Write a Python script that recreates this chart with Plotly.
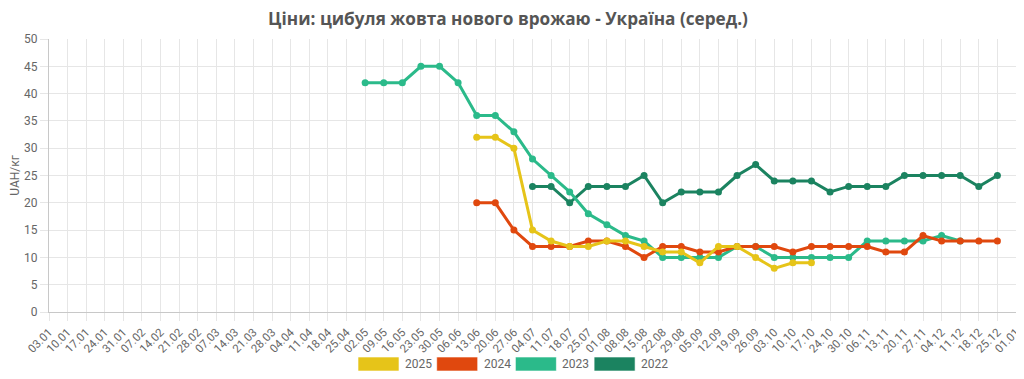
import plotly.graph_objects as go

categories = ["03.01","10.01","17.01","24.01","31.01","07.02","14.02","21.02","28.02","07.03",
              "14.03","21.03","28.03","04.04","11.04","18.04","25.04","02.05","09.05","16.05",
              "23.05","30.05","06.06","13.06","20.06","27.06","04.07","11.07","18.07","25.07",
              "01.08","08.08","15.08","22.08","29.08","05.09","12.09","19.09","26.09","03.10",
              "10.10","17.10","24.10","30.10","06.11","13.11","20.11","27.11","04.12","11.12",
              "18.12","25.12","01.01"]

# series: start category + values
start_2025 = "13.06"
values_2025 = [32, 32, 30, 15, 13, 12, 12, 13, 13, 12, 11, 11, 9, 12, 12, 10, 8, 9, 9]
start_2024 = "13.06"
values_2024 = [20, 20, 15, 12, 12, 12, 13, 13, 12, 10, 12, 12, 11, 11, 12, 12, 12, 11, 12,
               12, 12, 12, 11, 11, 14, 13, 13, 13, 13]
start_2023 = "02.05"
values_2023 = [42, 42, 42, 45, 45, 42, 36, 36, 33, 28, 25, 22, 18, 16, 14, 13, 10, 10, 10, 10,
               12, 12, 10, 10, 10, 10, 10, 13, 13, 13, 13, 14, 13]
start_2022 = "04.07"
values_2022 = [23, 23, 20, 23, 23, 23, 25, 20, 22, 22, 22, 25, 27, 24, 24, 24, 22, 23, 23, 23,
               25, 25, 25, 25, 23, 25]

series_names = ["2025", "2024", "2023", "2022"]
series_colors = ["#E6C419", "#E0480E", "#2BBA8A", "#1B8360"]
series_starts = [start_2025, start_2024, start_2023, start_2022]
series_values = [values_2025, values_2024, values_2023, values_2022]

title_text = "Ціни: цибуля жовта нового врожаю - Україна (серед.)"
y_title = "UAH/кг"

fig = go.Figure()
# draw older years first so newer ones are on top
for name, color, start, vals in reversed(list(zip(series_names, series_colors, series_starts, series_values))):
    i0 = categories.index(start)
    xs = categories[i0:i0 + len(vals)]
    fig.add_trace(go.Scatter(
        x=xs, y=vals, name=name, mode="lines+markers",
        line=dict(color=color, width=3),
        marker=dict(color=color, size=7),
        cliponaxis=False, showlegend=False,
    ))

FONT = "Roboto, Open Sans, sans-serif"

# The page body has an 8px default margin: the figure is sized and laid out to compensate.
OFF = 8
W, H = 1024 - OFF, 379 - OFF
plot_l, plot_r, plot_t, plot_b = 49 - OFF, 1016 - OFF, 39 - OFF, 312 - OFF
pw, ph = plot_r - plot_l, plot_b - plot_t

# legend drawn manually (chart.js-style boxes)
leg_left = 358 - OFF
leg_step = 78.7
box_w, box_h = 41, 14
box_yc = 364 - OFF
for k, (name, color) in enumerate(zip(series_names, series_colors)):
    x0 = leg_left + k * leg_step
    fig.add_shape(type="rect", xref="paper", yref="paper",
                  x0=(x0 - plot_l) / pw, x1=(x0 + box_w - plot_l) / pw,
                  y0=(plot_b - (box_yc + box_h / 2)) / ph, y1=(plot_b - (box_yc - box_h / 2)) / ph,
                  fillcolor=color, line=dict(color="rgba(255,255,255,0.6)", width=1))
    fig.add_annotation(xref="paper", yref="paper",
                       x=(x0 + box_w + 4 - plot_l) / pw, y=(plot_b - box_yc) / ph,
                       text=name, showarrow=False, xanchor="left", yanchor="middle",
                       font=dict(family=FONT, size=12, color="#666666"))

fig.update_layout(
    width=W, height=H,
    margin=dict(l=plot_l, r=W - plot_r, t=plot_t, b=H - plot_b, autoexpand=False),
    paper_bgcolor="white", plot_bgcolor="white",
    font=dict(family=FONT, color="#666666"),
    title=dict(text="<b>" + title_text + "</b>", x=(508 - OFF) / W, xanchor="center", xref="container",
               y=1 - (19 - OFF) / H, yanchor="middle", yref="container",
               font=dict(family="Open Sans, sans-serif", size=17.2, color="#555555")),
    showlegend=False,
    xaxis=dict(type="category", categoryorder="array", categoryarray=categories,
               range=[0, len(categories) - 1], tickangle=-45, automargin=False,
               tickfont=dict(size=11.5, color="#666666"),
               showgrid=True, gridcolor="#e6e6e6", gridwidth=1,
               showline=True, linecolor="#c8c8c8", linewidth=1,
               ticks="outside", ticklen=8, tickcolor="#e6e6e6", zeroline=False),
    yaxis=dict(range=[0, 50], dtick=5, tick0=0, automargin=False,
               tickfont=dict(size=12, color="#666666"),
               showgrid=True, gridcolor="#e6e6e6", gridwidth=1,
               showline=True, linecolor="#c8c8c8", linewidth=1,
               ticks="outside", ticklen=8, tickcolor="#e6e6e6", zeroline=False,
               title=dict(text=y_title, font=dict(size=12, color="#666666"), standoff=8)),
)

fig.write_html("out.html")
